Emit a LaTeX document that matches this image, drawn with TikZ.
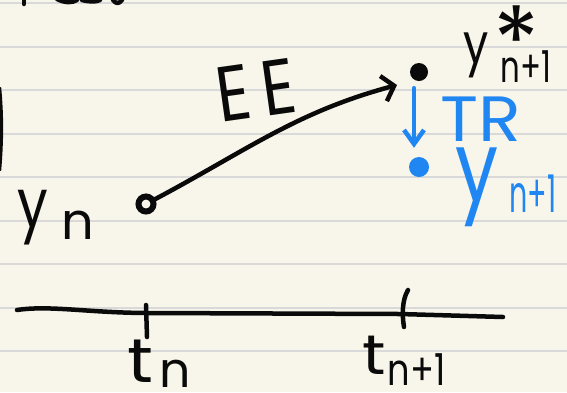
\documentclass[tikz,border=0pt]{standalone}
\usepackage{fontspec}
\setmainfont{Poppins}
\usepackage{graphicx}
\usetikzlibrary{arrows.meta}
\definecolor{paper}{HTML}{F8F6EB}
\definecolor{rulecol}{HTML}{D9D9D9}
\definecolor{ink}{HTML}{0A0A0A}
\definecolor{blueink}{HTML}{1F86F2}
\begin{document}
\begin{tikzpicture}[x=1pt,y=-1pt,
  pen/.style={line width=4.5pt,line cap=round,line join=round,draw=ink},
  bpen/.style={pen,draw=blueink},
  ring/.style={circle,draw=ink,line width=6pt,inner sep=0pt,minimum size=15pt},
  inkdot/.style={circle,fill=ink,inner sep=0pt,minimum size=18pt},
  bluedot/.style={circle,fill=blueink,inner sep=0pt,minimum size=20pt},
  lbl/.style={inner sep=0pt,text=ink},
  blbl/.style={inner sep=0pt,text=blueink}]
\fill[paper] (0,0) rectangle (567,392);
\useasboundingbox (0,0) rectangle (567,392);
\foreach \yy in {2.5,46.5,90,133.5,177,220.5,264,307.5,351}
  \draw[rulecol,line width=2pt] (0,\yy) -- (567,\yy);
% cut-off strokes at the top and left edge
\draw[pen] (24,-4) -- (24,4);
\draw[pen] (57,-1) .. controls (65,3) and (72,3) .. (77,0);
\draw[pen] (82,0) .. controls (90,2) and (96,2) .. (100,0);
\draw[pen] (113,0) .. controls (116,4) and (119,4) .. (122,0);
\draw[pen,line width=3.5pt] (-0.5,88) .. controls (2,115) and (2,140) .. (-0.5,170);
% points
\node[ring] (yn) at (146,204) {};
\node[inkdot] (ystar) at (419,72) {};
\node[bluedot] (ynext) at (419,167) {};
% explicit Euler step
\coordinate (eetip) at (397,85);
\draw[pen,-{Straight Barb[length=11pt,width=26pt]}] (yn) to[out=28,in=195] (eetip);
% truncation
\draw[bpen,shorten <=7pt,shorten >=9pt,-{Straight Barb[length=14pt,width=20pt]}]
  ([xshift=-5pt]ystar.south) -- ([xshift=-5pt]ynext.north);
% time axis
\coordinate (axL) at (17,310);
\coordinate (axR) at (503,317);
\draw[pen] (axL) .. controls (50,305) and (90,313) .. (150,313) -- (400,314) -- (axR);
\coordinate (tickA) at (146,305);
\coordinate (tickB) at (408,290);
\draw[pen] (tickA) -- ++(1,32);
\draw[pen] (tickB) .. controls (402,300) and (402,315) .. (404,327);
% labels
\node[lbl,anchor=base west] (ynlbl) at (17,227) {\fontsize{68}{68}\selectfont\scalebox{0.8}[1]{y}\hspace{14pt}\raisebox{-12pt}{\fontsize{51}{51}\selectfont n}};
\node[lbl,rotate=8] (ee) at (256,90) {\fontsize{78}{78}\selectfont\scalebox{0.85}[1]{E}\hspace{12pt}\scalebox{0.85}[1]{E}};
\node[lbl,anchor=base west] (ystarlbl) at (463,63) {\fontsize{56}{56}\selectfont\scalebox{0.8}[1]{y}\hspace{12pt}\rlap{\hspace{-7pt}\raisebox{-12pt}{\fontsize{95}{95}\selectfont *}}\raisebox{-19pt}{\fontsize{44}{44}\selectfont\scalebox{0.7}[1]{n+1}}};
\node[blbl] (tr) at (481,119) {\fontsize{64}{64}\selectfont\scalebox{1.1}[1]{TR}};
\node[blbl,anchor=base west] (ynextlbl) at (455,201) {\fontsize{98}{98}\selectfont\scalebox{0.78}[1]{y}\hspace{11pt}\raisebox{-11pt}{\fontsize{52}{52}\selectfont\scalebox{0.55}[1]{n+1}}};
\node[lbl,anchor=base west] (tn) at (127,382) {\fontsize{62}{62}\selectfont\scalebox{1.15}[1]{t}\hspace{6pt}\raisebox{-5pt}{\fontsize{49}{49}\selectfont n}};
\node[lbl,anchor=base west] (tn1) at (362,374) {\fontsize{56}{56}\selectfont\scalebox{1.15}[1]{t}\hspace{2pt}\raisebox{-11pt}{\fontsize{44}{44}\selectfont\scalebox{0.8}[1]{n+1}}};
\end{tikzpicture}
\end{document}
